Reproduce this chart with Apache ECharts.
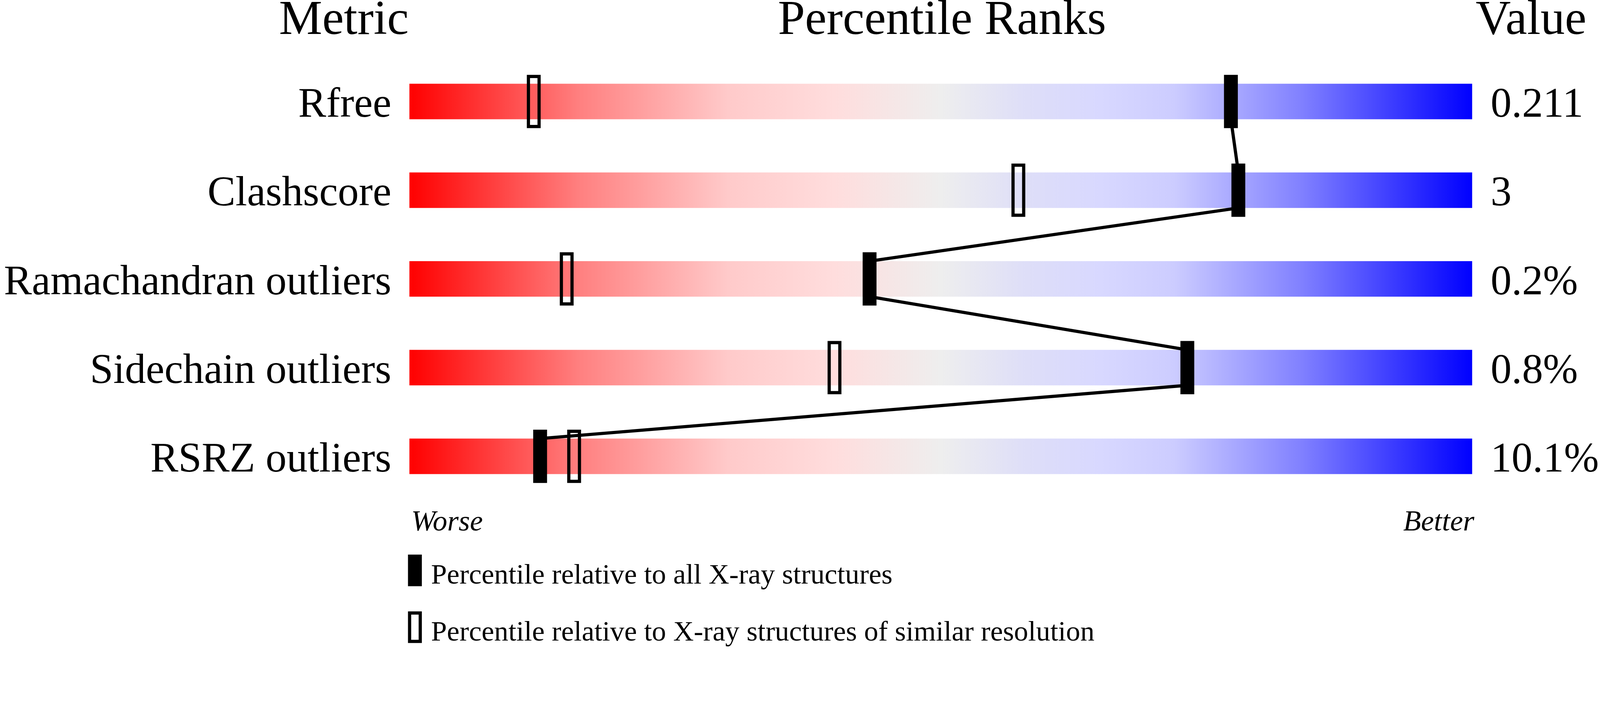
<!DOCTYPE html>
<html>
<head>
<meta charset="utf-8">
<title>Percentile Ranks</title>
<script src="https://cdn.jsdelivr.net/npm/echarts@6/dist/echarts.min.js"></script>
<style>
    html, body { margin: 0; padding: 0; background: #fff; overflow: hidden; }
    #rankChart { width: 100vw; height: 100vh; }
</style>
</head>
<body>
<div id="rankChart"></div>
<script>
var metrics = ['Rfree', 'Clashscore', 'Ramachandran outliers', 'Sidechain outliers', 'RSRZ outliers'];
var values = ['0.211', '3', '0.2%', '0.8%', '10.1%'];
// percentile among all X-ray structures (filled marks)
var allPct = [77.3, 78.0, 43.3, 73.2, 12.3];
// percentile among structures of similar resolution (open marks)
var simPct = [11.7, 57.3, 14.8, 40.0, 15.5];
var fullScale = [100, 100, 100, 100, 100];

var allName = 'Percentile relative to all X-ray structures';
var simName = 'Percentile relative to X-ray structures of similar resolution';

var FONT = "'Liberation Serif', 'Times New Roman', serif";

// layout was measured on a 4506px wide picture, scale it to the viewport
var S = window.innerWidth / 4506;
function px(v) { return v * S; }

var BAR_H = px(100);

var myChart = echarts.init(document.getElementById('rankChart'));

function markItem(w, h, filled) {
    return function (params, api) {
        var p = api.coord([api.value(0), api.value(1)]);
        var lw = filled ? 0 : px(9);
        var ww = px(w) - lw, hh = px(h) - lw;
        return {
            type: 'rect',
            shape: { x: p[0] - ww / 2, y: p[1] - hh / 2, width: ww, height: hh },
            style: filled ? { fill: '#000' } : { fill: 'none', stroke: '#000', lineWidth: lw }
        };
    };
}

function label(text, x, y, size, align, italic) {
    return {
        type: 'text', x: px(x), y: px(y),
        style: {
            text: text,
            font: (italic ? 'italic ' : '') + px(size) + 'px ' + FONT,
            fill: '#000', align: align, verticalAlign: 'middle'
        }
    };
}

var rowLabel = {
    color: '#000',
    fontFamily: FONT,
    fontSize: px(118),
    verticalAlign: 'top',
    lineHeight: px(24)
};

var option = {
    backgroundColor: '#fff',
    animation: false,
    grid: {
        left: px(1153),
        right: px(353),
        top: px(161),
        height: px(1250)
    },
    xAxis: {
        type: 'value',
        min: 0,
        max: 100,
        show: false
    },
    yAxis: [
        {
            type: 'category',
            data: metrics,
            inverse: true,
            position: 'left',
            axisLine: { show: false },
            axisTick: { show: false },
            splitLine: { show: false },
            axisLabel: Object.assign({ margin: px(51) }, rowLabel)
        },
        {
            type: 'category',
            data: metrics,
            inverse: true,
            position: 'right',
            axisLine: { show: false },
            axisTick: { show: false },
            splitLine: { show: false },
            axisLabel: Object.assign({
                margin: px(52),
                formatter: function (name, idx) {
                    return values[idx];
                }
            }, rowLabel)
        }
    ],
    graphic: [
        label('Metric', 1151, 60, 137, 'right'),
        label('Percentile Ranks', 2653, 60, 137, 'center'),
        label('Value', 4156, 60, 137, 'left'),
        label('Worse', 1158, 1473, 82, 'left', true),
        label('Better', 4152, 1473, 82, 'right', true),
        // key
        { type: 'rect', shape: { x: px(1149), y: px(1563), width: px(39), height: px(89) }, style: { fill: '#000' } },
        label(allName, 1214, 1624, 80, 'left'),
        { type: 'rect', shape: { x: px(1153.5), y: px(1727.5), width: px(30), height: px(80) }, style: { fill: 'none', stroke: '#000', lineWidth: px(9) } },
        label(simName, 1214, 1784, 80, 'left')
    ],
    series: [
        {
            type: 'bar',
            data: fullScale,
            barWidth: BAR_H,
            silent: true,
            z: 1,
            itemStyle: {
                color: new echarts.graphic.LinearGradient(0, 0, 1, 0, [
                    { offset: 0, color: '#ff0000' },
                    { offset: 0.16, color: '#ff8080' },
                    { offset: 0.30, color: '#ffcaca' },
                    { offset: 0.40, color: '#ffdddd' },
                    { offset: 0.50, color: '#eeeeee' },
                    { offset: 0.58, color: '#dedef8' },
                    { offset: 0.65, color: '#d8d8ff' },
                    { offset: 0.72, color: '#ccccff' },
                    { offset: 0.84, color: '#8080ff' },
                    { offset: 1, color: '#0000ff' }
                ])
            }
        },
        {
            name: simName,
            type: 'custom',
            z: 3,
            silent: true,
            encode: { x: 0, y: 1 },
            data: simPct.map(function (v, i) { return [v, i]; }),
            renderItem: markItem(39, 150, false)
        },
        {
            type: 'custom',
            z: 4,
            silent: true,
            encode: { x: [0, 2], y: [1, 3] },
            data: allPct.slice(0, -1).map(function (v, i) { return [v, i, allPct[i + 1], i + 1]; }),
            renderItem: function (params, api) {
                var a = api.coord([api.value(0), api.value(1)]);
                var b = api.coord([api.value(2), api.value(3)]);
                return {
                    type: 'line',
                    shape: { x1: a[0], y1: a[1] + BAR_H / 2, x2: b[0], y2: b[1] - BAR_H / 2 },
                    style: { stroke: '#000', lineWidth: px(9) }
                };
            }
        },
        {
            name: allName,
            type: 'custom',
            z: 5,
            silent: true,
            encode: { x: 0, y: 1 },
            data: allPct.map(function (v, i) { return [v, i]; }),
            renderItem: markItem(39, 150, true)
        }
    ]
};

myChart.setOption(option);
</script>
</body>
</html>
